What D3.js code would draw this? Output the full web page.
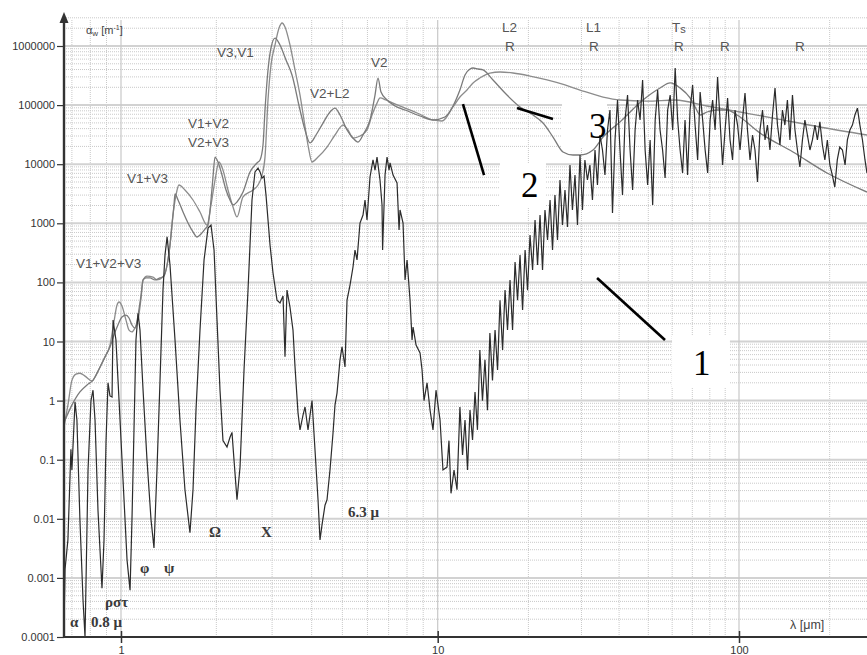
<!DOCTYPE html>
<html><head><meta charset="utf-8">
<script src="https://cdn.jsdelivr.net/npm/d3@7"></script>
<style>body{margin:0;background:#fff}svg{display:block}</style>
</head><body><svg id="c" width="867" height="655"></svg>
<script>
// ---------- data (λ in µm, α in m^-1) ----------
const yTickValues = [1e-4,1e-3,0.01,0.1,1,10,100,1000,1e4,1e5,1e6];
const yTickLabels = ["0.0001","0.001","0.01","0.1","1","10","100","1000","10000","100000","1000000"];
const xTickValues = [1,10,100];
const xTickLabels = ["1","10","100"];

const curve1 = [
[0.66,1e-4],[0.666,1.4e-3],[0.680,4.4e-3],[0.695,0.15],[0.700,0.067],[0.706,0.18],[0.716,0.95],[0.726,0.47],[0.742,0.0096],[0.759,4.2e-4],[0.770,1e-4],[0.787,0.067],[0.804,1.0],[0.816,1.5],[0.828,0.47],[0.846,0.014],[0.871,6.7e-4],[0.884,4.4e-3],[0.897,0.21],[0.910,2.0],[0.923,1.2],[0.937,1.15],[0.944,23],[0.964,10.6],[0.986,1.0],[1.015,0.045],[1.045,2.0e-3],[1.068,6.2e-4],[1.083,0.0096],[1.099,0.32],[1.115,10.6],[1.132,30],[1.148,15.6],[1.174,1.5],[1.208,0.1],[1.244,0.0096],[1.271,3.2e-3],[1.299,0.067],[1.328,2.2],[1.357,74],[1.377,290],[1.398,590],[1.428,197],[1.481,10.6],[1.535,0.47],[1.592,0.031],[1.651,5.8e-3],[1.688,0.031],[1.725,0.69],[1.776,15.6],[1.829,240],[1.883,830],[1.924,935],[1.967,353],[2.010,23],[2.054,1.5],[2.099,0.21],[2.161,0.164],[2.209,0.24],[2.241,0.29],[2.274,0.1],[2.324,0.021],[2.376,0.075],[2.446,3.3],[2.518,74],[2.592,2480],[2.649,7400],[2.708,8600],[2.748,7400],[2.788,5800],[2.829,6300],[2.870,3000],[2.955,430],[3.020,144],[3.109,50],[3.177,45],[3.248,59],[3.295,5.5],[3.343,74],[3.417,38],[3.492,15.6],[3.544,3.7],[3.622,0.62],[3.675,0.32],[3.756,0.57],[3.811,0.78],[3.895,0.32],[4.010,1.0],[4.098,0.146],[4.189,0.021],[4.250,4.4e-3],[4.312,7.9e-3],[4.407,0.017],[4.472,0.021],[4.570,0.067],[4.671,0.28],[4.739,0.84],[4.809,1.34],[4.915,4.9],[4.987,8.1],[5.097,3.7],[5.172,50],[5.286,90],[5.402,182],[5.481,353],[5.562,240],[5.684,1010],[5.810,1380],[5.895,2480],[5.981,1140],[6.113,6070],[6.248,11800],[6.340,7950],[6.433,13200],[6.574,5400],[6.671,2040],[6.699,353],[6.819,6560],[6.919,13200],[7.021,7950],[7.072,10500],[7.228,6560],[7.441,4810],[7.550,770],[7.605,1680],[7.773,1010],[7.887,110],[8.003,239],[8.179,50],[8.299,10.6],[8.360,17.6],[8.544,8.7],[8.796,6.4],[8.925,3.3],[9.055,1.0],[9.255,2.0],[9.459,0.69],[9.664,0.32],[9.877,1.5],[10.18,0.47],[10.41,0.067],[10.74,0.075],[10.90,0.21],[11.07,0.027],[11.33,0.067],[11.59,0.031],
[11.85,0.78],[12.09,0.12],[12.32,0.47],[12.56,0.067],[12.80,0.69],[13.05,0.215],[13.30,1.4],[13.55,0.32],[13.80,7.2],[14.08,1.0],[14.35,4.9],[14.63,0.69],[14.90,13.9],[15.2,2.2],[15.5,15.6],[15.8,3.3],[16.1,50],[16.42,7.2],[16.73,74],[17.05,15.6],[17.38,110],[17.72,15.6],[18.06,221],[18.41,50],[18.76,290],[19.13,34],[19.5,353],[19.87,74],[20.25,634],[20.65,162],[21.04,1140],[21.45,197],[21.86,1380],[22.28,162],[22.7,1680],[23.15,521],[23.6,2480],[24.05,353],[24.5,3010],[24.98,521],[25.46,5400],[25.95,935],[26.45,3660],[26.96,865],[27.48,9690],[28.0,1680],[28.55,6560],[29.1,935],[29.67,14300],[30.23,1680],[30.8,11800],[31.4,5400],[32.0,9690],[32.63,2480],[33.27,17400],[33.9,4450],
[34.56,31200],[35.23,17400],[35.9,6560],[36.6,37900],[37.3,82600],[38.03,1490],[38.77,25700],[39.52,122000],[40.28,17400],[41.06,3010],[41.85,56000],[42.67,148000],[43.5,17400],[44.35,3660],[45.2,37900],[46.07,122000],[46.95,56000],[47.87,266000],[48.8,17400],[49.75,4450],[50.7,25700],[51.7,2040],[52.7,56000],[53.7,180000],[54.7,37900],[55.77,17400],[56.85,5840],[57.97,82600],[59.1,148000],[60.25,37900],[61.4,424000],[62.58,56000],[63.76,17400],[64.98,7100],[66.2,56000],[67.5,6560],[68.8,82600],[70.15,219000],[71.5,46000],[72.9,11800],[74.3,166000],[75.75,56000],[77.2,17400],[78.7,7100],[80.2,56000],[81.75,122000],[83.3,37900],[84.9,299000],[86.5,56000],[88.2,9690],[89.9,37900],[91.65,132000],[93.4,25700],[95.2,11800],[97.0,82600],[98.9,46000],[100.8,17400],[102.7,56000],[104.7,160000],[106.7,37900],[108.8,11800],[110.9,31200],[113,17400],[115.2,5000],[117.4,37900],[119.7,82600],[122,25700],[124.3,46000],[126.7,17400],[129.2,68000],[131.7,195000],[134.2,46000],[136.8,21100],[139.4,82600],[142,46000],[144.8,122000],[147.6,25700],[150.5,148000],[153.4,37900],[156.3,17400],[159.3,8960],[162.4,25700],[165.5,56000],[168.7,31200],[172,17400],[175.3,25700],[178.7,46000],[182.1,25700],[185.6,52000],[189.2,21100],[192.8,11800],[196.5,25700],[200.3,9690],[204.1,6560],[208,4110],[212,11800],[216,19500],[220.5,17400],[225,9690],[229,25700],[233.5,37900],[238,46000],[242.6,68000],[247.3,89000],[252,46000],[257,25700],[262,11800],[266,7100]
];

const curve2 = [
[0.66,0.34],[0.680,0.84],[0.700,2.2],[0.721,2.8],[0.742,2.9],[0.770,2.6],[0.810,2.15],[0.834,2.7],[0.859,3.7],[0.890,5.5],[0.923,8.7],[0.950,21.4],[0.971,41],[0.986,46.6],[1.007,39.8],[1.037,23],[1.060,15.6],[1.083,14.5],[1.107,16.9],[1.132,23],[1.157,54.5],[1.174,110],[1.208,128],[1.262,123],[1.299,110],[1.357,123],[1.398,197],[1.428,430],[1.459,1380],[1.492,3010],[1.524,4450],[1.592,3660],[1.688,2480],[1.776,1550],[1.869,935],[1.924,2040],[1.981,5400],[2.039,10900],[2.099,7950],[2.177,3660],[2.258,1890],[2.324,1280],[2.428,2790],[2.611,3660],[2.708,4450],[2.788,6560],[2.849,13200],[2.912,122000],[2.976,477000],[3.064,1040000],[3.155,2010000],[3.225,2450000],[3.295,2100000],[3.417,1040000],[3.544,393000],[3.675,148000],[3.783,56000],[3.895,21100],[4.010,10900],[4.189,13200],[4.472,19500],[4.739,31200],[5.023,46000],[5.21,37900],[5.402,27700],[5.684,30000],[5.981,37900],[6.203,68000],[6.433,108000],[6.574,132000],[6.869,122000],[7.228,108000],[7.887,89000],[8.606,73500],[9.664,56000],[10.33,53800],[11.24,92900],[11.85,137000],[12.51,180000],[13.10,237000],[13.80,287000],[14.90,349000],[16.1,363000],[17.78,349000],[20.25,310000],[23.06,266000],[26.45,219000],[29.67,180000],[35.38,137000],[40.28,122000],[49.5,117000],[61.4,122000],[78.3,96600],[100.8,76400],[129.7,60400],[185.6,42600],[266,31200]
];

const curve3 = [
[0.66,0.42],[0.700,0.84],[0.742,1.4],[0.787,1.9],[0.816,2.2],[0.859,3.7],[0.897,5.9],[0.923,8.1],[0.950,12.9],[0.978,19],[1.007,26],[1.037,28],[1.060,25],[1.083,19],[1.107,16.9],[1.132,28],[1.157,61],[1.174,110],[1.199,119],[1.235,119],[1.280,110],[1.328,119],[1.367,128],[1.398,197],[1.428,430],[1.449,935],[1.470,2040],[1.481,3130],[1.514,2480],[1.570,1550],[1.628,1010],[1.688,713],[1.738,586],[1.789,659],[1.842,800],[1.883,935],[1.924,2480],[1.952,6070],[1.981,13200],[2.024,10900],[2.084,6560],[2.146,3660],[2.209,2480],[2.258,2040],[2.324,2290],[2.428,3380],[2.555,7380],[2.688,10500],[2.748,11800],[2.808,21100],[2.849,82600],[2.912,393000],[2.976,925000],[3.064,1360000],[3.177,1040000],[3.319,580000],[3.467,323000],[3.675,82600],[3.811,37900],[3.952,22900],[4.128,31200],[4.344,49700],[4.570,76400],[4.739,89000],[4.915,68000],[5.172,37900],[5.402,27700],[5.602,23700],[5.852,33700],[6.113,56000],[6.340,148000],[6.479,287000],[6.622,166000],[6.919,122000],[7.333,96600],[7.887,82600],[8.796,65400],[9.664,56000],[10.57,62900],[11.24,96600],[11.85,180000],[12.32,323000],[12.80,408000],[13.10,424000],[13.61,408000],[14.14,393000],[15.26,266000],[16.98,148000],[18.76,92900],[20.72,68000],[22.37,49700],[24.14,28800],[26.05,16100],[28.12,14300],[29.67,14300],[32.77,17400],[35.38,28800],[40.28,52000],[48.0,122000],[54.7,195000],[59.1,237000],[63.76,195000],[68.8,132000],[71.5,92900],[74.3,68000],[78.3,76400],[84.5,82600],[91.2,82600],[98.5,68000],[117.4,33700],[151.1,16100],[196,7100],[266,3380]
];

// band assignments (anchor λ, α)
const bandLabels = [
 {t:"V3,V1",l:2.01,a:6.5e5},{t:"V1+V2",l:1.628,a:4.1e4},{t:"V2+V3",l:1.628,a:1.95e4},
 {t:"V1+V3",l:1.045,a:4810},{t:"V1+V2+V3",l:0.721,a:175},{t:"V2+L2",l:3.952,a:1.32e5},
 {t:"V2",l:6.157,a:4.4e5},{t:"L2",l:16.35,a:1.73e6},{t:"R",l:16.73,a:8.2e5},
 {t:"L1",l:31.06,a:1.73e6},{t:"R",l:31.78,a:8.2e5},{t:"R",l:60.87,a:8.2e5},
 {t:"R",l:86.5,a:8.2e5},{t:"R",l:153.4,a:8.2e5}
];
const minimaLabels = [
 {t:"α",l:0.690,a:1.48e-4},{t:"0.8 μ",l:0.804,a:1.48e-4},{t:"ρστ",l:0.890,a:3.22e-4},
 {t:"φ",l:1.148,a:1.21e-3},{t:"ψ",l:1.367,a:1.21e-3},{t:"Ω",l:1.896,a:4.92e-3},
 {t:"X",l:2.767,a:4.92e-3},{t:"6.3 μ",l:5.21,a:0.0107}
];
const curveNames = [{t:"1",l:70.4,a:2.71},{t:"2",l:18.9,a:2790},{t:"3",l:31.78,a:2.77e4}];
const pointers = [[[12.13,1.04e5],[14.25,6560]],[[18.33,8.93e4],[24.14,5.82e4]],[[33.8,119],[56.8,10.6]]];
const labelBoxes = [[[16.1,1.05e4],[22.88,1890]],[[25.86,1.27e5],[36.47,1.88e4]],[[59.94,12.4],[93.3,1.63]]];

// ---------- scales ----------
const W = 867, H = 655, L = 64, B = 637, T = 14;
const x = d3.scaleLog().domain([0.66,1,10,100,300]).range([63.8,121,437.7,739,882.7]);
const y = d3.scaleLog().domain([1e-4,1e6]).range([637,46]);

const svg = d3.select("#c");
svg.append("rect").attr("width",W).attr("height",H).attr("fill","#fff");

// ---------- grid ----------
const xMinor = [], xMajor = xTickValues;
[0.1,1,10,100].forEach(dec => { for (let k=2;k<=9;k++){ const v=k*dec; if (v>0.66 && v<290) xMinor.push(v);} });
const yMinor = [];
for (let e=-4;e<=6;e++){ for (let k=2;k<=9;k++){ const v=k*Math.pow(10,e); if (y(v)>T+2) yMinor.push(v);} }
const g = svg.append("g");
g.selectAll(".hm").data(yMinor).join("line")
 .attr("x1",L).attr("x2",W).attr("y1",d=>y(d)).attr("y2",d=>y(d))
 .attr("stroke","#c9c9c9").attr("stroke-width",1).attr("stroke-dasharray","1,1");
g.selectAll(".vm").data(xMinor).join("line")
 .attr("x1",d=>x(d)).attr("x2",d=>x(d)).attr("y1",T+6).attr("y2",B)
 .attr("stroke","#c9c9c9").attr("stroke-width",1).attr("stroke-dasharray","1,1");
g.selectAll(".hM").data(yTickValues).join("line")
 .attr("x1",L).attr("x2",W).attr("y1",d=>y(d)).attr("y2",d=>y(d))
 .attr("stroke","#d2d2d2").attr("stroke-width",2);
g.selectAll(".vM").data(xMajor).join("line")
 .attr("x1",d=>x(d)).attr("x2",d=>x(d)).attr("y1",T+6).attr("y2",B)
 .attr("stroke","#c8c8c8").attr("stroke-width",1.2);

// white label boxes (hide grid)
svg.append("g").selectAll("rect").data(labelBoxes).join("rect")
 .attr("x",d=>x(d[0][0])).attr("y",d=>y(d[0][1]))
 .attr("width",d=>x(d[1][0])-x(d[0][0])).attr("height",d=>y(d[1][1])-y(d[0][1]))
 .attr("fill","#fff");

// ---------- curves ----------
svg.append("clipPath").attr("id","clip").append("rect").attr("x",L).attr("y",0).attr("width",W-L).attr("height",B);
const cg = svg.append("g").attr("clip-path","url(#clip)");
const smooth = d3.line().x(d=>x(d[0])).y(d=>y(d[1])).curve(d3.curveMonotoneX);
const straight = d3.line().x(d=>x(d[0])).y(d=>y(d[1]));
cg.append("path").datum(curve2).attr("d",smooth).attr("fill","none").attr("stroke","#8c8c8c").attr("stroke-width",1.3);
cg.append("path").datum(curve3).attr("d",smooth).attr("fill","none").attr("stroke","#7a7a7a").attr("stroke-width",1.3);
cg.append("path").datum(curve1).attr("d",straight).attr("fill","none").attr("stroke","#2b2b2b").attr("stroke-width",1.2);

// pointer lines
svg.append("g").selectAll("line").data(pointers).join("line")
 .attr("x1",d=>x(d[0][0])).attr("y1",d=>y(d[0][1])).attr("x2",d=>x(d[1][0])).attr("y2",d=>y(d[1][1]))
 .attr("stroke","#000").attr("stroke-width",2.6);

// ---------- axes ----------
const yAxis = d3.axisLeft(y).tickValues(yTickValues).tickFormat((d,i)=>yTickLabels[i]).tickSize(7).tickPadding(2);
const ya = svg.append("g").attr("transform",`translate(${L},0)`).call(yAxis);
ya.select(".domain").remove();
ya.selectAll("line").attr("stroke","#333").attr("stroke-width",1.2);
ya.selectAll("text").attr("font-family","Liberation Sans, Arial, sans-serif").attr("font-size",11).attr("fill","#333");

const xAxis = d3.axisBottom(x).tickValues(xTickValues).tickFormat((d,i)=>xTickLabels[i]).tickSize(6).tickPadding(3);
const xa = svg.append("g").attr("transform",`translate(0,${B})`).call(xAxis);
xa.select(".domain").remove();
xa.selectAll("line").attr("y1",-6).attr("y2",6).attr("stroke","#333").attr("stroke-width",1.5);
xa.selectAll("text").attr("font-family","Liberation Sans, Arial, sans-serif").attr("font-size",11).attr("fill","#333");

svg.append("line").attr("x1",L).attr("x2",W).attr("y1",B).attr("y2",B).attr("stroke","#333").attr("stroke-width",2.2);
svg.append("line").attr("x1",L).attr("x2",L).attr("y1",B+1).attr("y2",T+6).attr("stroke","#333").attr("stroke-width",2.4);
svg.append("path").attr("d",`M${L-4.5},${T+9} L${L},${T-2} L${L+4.5},${T+9} Z`).attr("fill","#333");

// axis titles
const yt = svg.append("text").attr("x",86).attr("y",34).attr("font-family","Liberation Sans, Arial, sans-serif").attr("font-size",11).attr("fill","#444");
yt.append("tspan").text("α");
yt.append("tspan").attr("font-size",8).attr("dy",2).text("w");
yt.append("tspan").attr("dy",-2).text(" [m");
yt.append("tspan").attr("font-size",7).attr("dy",-4).text("-1");
yt.append("tspan").attr("dy",4).text("]");
svg.append("text").attr("x",790).attr("y",629).attr("font-family","Liberation Sans, Arial, sans-serif").attr("font-size",12.5).attr("fill","#444").text("λ [μm]");

// ---------- labels ----------
svg.append("g").selectAll("text").data(bandLabels).join("text")
 .attr("x",d=>x(d.l)).attr("y",d=>y(d.a)).text(d=>d.t)
 .attr("font-family","Liberation Sans, Arial, sans-serif").attr("font-size",13.5).attr("fill","#555");
const ts = svg.append("text").attr("x",x(59.94)).attr("y",y(1.73e6)).attr("font-family","Liberation Sans, Arial, sans-serif").attr("font-size",13.5).attr("fill","#555");
ts.append("tspan").text("T");
ts.append("tspan").attr("font-size",11).attr("dy",1.5).text("s");

svg.append("g").selectAll("text").data(minimaLabels).join("text")
 .attr("x",d=>x(d.l)).attr("y",d=>y(d.a)).text(d=>d.t)
 .attr("font-family","Liberation Serif, Times New Roman, serif").attr("font-weight","bold").attr("font-size",15).attr("fill","#3a3a3a");

svg.append("g").selectAll("text").data(curveNames).join("text")
 .attr("x",d=>x(d.l)).attr("y",d=>y(d.a)).text(d=>d.t)
 .attr("font-family","Liberation Serif, Times New Roman, serif").attr("font-size",35).attr("fill","#000");
</script></body></html>
